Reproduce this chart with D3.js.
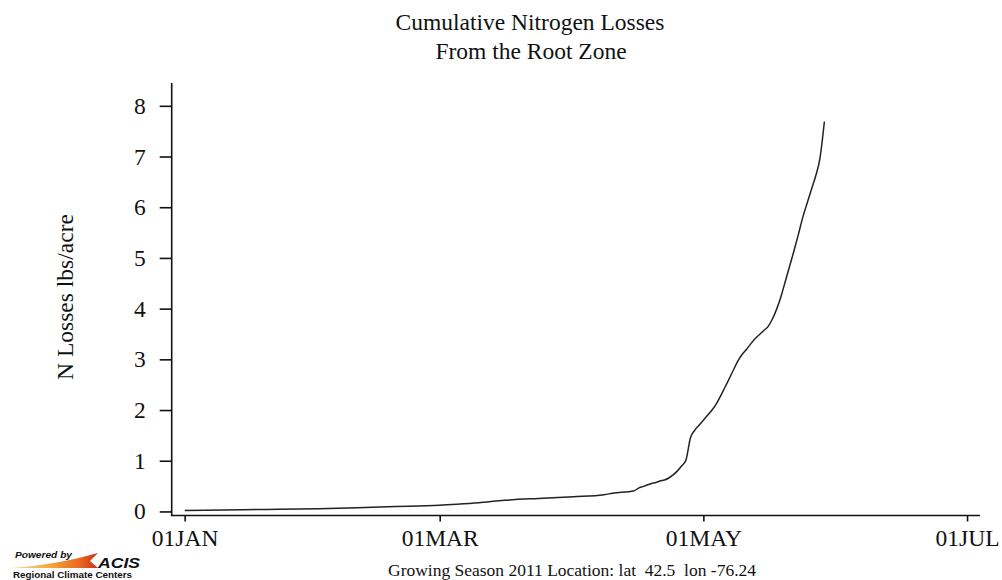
<!DOCTYPE html>
<html>
<head>
<meta charset="utf-8">
<script src="https://cdn.jsdelivr.net/npm/d3@7"></script>
<style>
  html, body { margin: 0; padding: 0; background: #fff; }
  svg { display: block; }
  text { font-family: "Liberation Serif", "Times New Roman", serif; fill: #111; }
</style>
</head>
<body>
<svg id="chart" width="1002" height="580"></svg>
<script>
// Cumulative N losses (lbs/acre), growing season 2011
const dates = [
  "2011-01-01","2011-01-10","2011-01-20","2011-02-01","2011-02-10","2011-02-17",
  "2011-03-01","2011-03-05","2011-03-10","2011-03-16","2011-03-25","2011-04-01",
  "2011-04-08","2011-04-10","2011-04-15","2011-04-16","2011-04-17","2011-04-18",
  "2011-04-19","2011-04-20","2011-04-21","2011-04-22","2011-04-23","2011-04-24",
  "2011-04-25","2011-04-26","2011-04-27","2011-04-28","2011-04-29","2011-04-30",
  "2011-05-01","2011-05-02","2011-05-03","2011-05-04","2011-05-05","2011-05-06",
  "2011-05-07","2011-05-08","2011-05-09","2011-05-10","2011-05-11","2011-05-12",
  "2011-05-13","2011-05-14","2011-05-15","2011-05-16","2011-05-17","2011-05-18",
  "2011-05-19","2011-05-20","2011-05-21","2011-05-22","2011-05-23","2011-05-24",
  "2011-05-25","2011-05-26","2011-05-27","2011-05-28","2011-05-29"
];
const nLoss = [
  0.02, 0.03, 0.04, 0.055, 0.075, 0.095,
  0.12, 0.14, 0.17, 0.22, 0.26, 0.29,
  0.33, 0.36, 0.41, 0.46, 0.49, 0.52,
  0.55, 0.57, 0.60, 0.62, 0.66, 0.72,
  0.80, 0.90, 1.02, 1.45, 1.60, 1.70,
  1.80, 1.90, 2.00, 2.12, 2.28, 2.45,
  2.62, 2.80, 2.97, 3.10, 3.20, 3.31,
  3.41, 3.49, 3.57, 3.65, 3.80, 4.00,
  4.25, 4.55, 4.85, 5.15, 5.47, 5.80,
  6.08, 6.35, 6.62, 6.98, 7.69
];
const xTickDates = ["2011-01-01","2011-03-01","2011-05-01","2011-07-01"];
const xTickLabels = ["01JAN","01MAR","01MAY","01JUL"];
const yTicks = [0,1,2,3,4,5,6,7,8];

const parse = d3.utcParse("%Y-%m-%d");
const series = dates.map((d, i) => ({ date: parse(d), value: nLoss[i] }));

const svg = d3.select("#chart");
const plotL = 171.7, plotR = 980, plotT = 83, plotB = 515.5;

const x = d3.scaleUtc()
  .domain([parse("2010-12-29"), parse("2011-07-04")])
  .range([plotL, plotR]);
const y = d3.scaleLinear()
  .domain([-0.08, 8.45])
  .range([plotB, plotT]);

// Title
const title = svg.append("g").attr("text-anchor", "middle").style("font-size", "23.5px");
title.append("text").attr("x", 530).attr("y", 30).text("Cumulative Nitrogen Losses");
title.append("text").attr("x", 531).attr("y", 59).text("From the Root Zone");

// Y axis
const yAxis = d3.axisLeft(y).tickValues(yTicks).tickSize(12).tickSizeOuter(0).tickPadding(14);
const gy = svg.append("g").attr("transform", `translate(${plotL},0)`).call(yAxis);
gy.select(".domain").attr("d", `M0,${plotT}V${plotB}`);
gy.selectAll("path, line").attr("stroke", "#111").attr("stroke-width", 1.6);
gy.selectAll("text").style("font-size", "23.5px").attr("fill", "#111")
  .style("font-family", '"Liberation Serif", serif');

// X axis
const xAxis = d3.axisBottom(x)
  .tickValues(xTickDates.map(parse))
  .tickFormat((d, i) => xTickLabels[i])
  .tickSize(6).tickSizeOuter(0).tickPadding(8);
const gx = svg.append("g").attr("transform", `translate(0,${plotB})`).call(xAxis);
gx.select(".domain").attr("d", `M${plotL - 0.8},0H${plotR}`);
gx.selectAll("path, line").attr("stroke", "#111").attr("stroke-width", 1.6);
gx.selectAll("text").style("font-size", "23.5px").attr("fill", "#111")
  .style("font-family", '"Liberation Serif", serif');

// Y label
svg.append("text")
  .attr("transform", "translate(73,297) rotate(-90)")
  .attr("text-anchor", "middle")
  .style("font-size", "23.5px")
  .text("N Losses lbs/acre");

// Cumulative loss curve
const line = d3.line()
  .x(d => x(d.date))
  .y(d => y(d.value))
  .curve(d3.curveMonotoneX);
svg.append("path")
  .datum(series)
  .attr("fill", "none")
  .attr("stroke", "#222")
  .attr("stroke-width", 1.5)
  .attr("d", line);

// Footer
svg.append("text")
  .attr("x", 388).attr("y", 576)
  .attr("textLength", 368)
  .attr("lengthAdjust", "spacingAndGlyphs")
  .style("font-size", "16px")
  .style("white-space", "pre")
  .text("Growing Season 2011 Location: lat  42.5  lon -76.24");

// ACIS logo
const defs = svg.append("defs");
const grad = defs.append("linearGradient").attr("id", "swoosh")
  .attr("x1", "0").attr("x2", "1").attr("y1", "0").attr("y2", "0");
grad.append("stop").attr("offset", "0").attr("stop-color", "#f3dfa0");
grad.append("stop").attr("offset", "0.45").attr("stop-color", "#f2a73a");
grad.append("stop").attr("offset", "0.8").attr("stop-color", "#e8661c");
grad.append("stop").attr("offset", "1").attr("stop-color", "#c9301c");
const logo = svg.append("g");
logo.append("path")
  .attr("d", "M11,568 C40,566 70,561 98,553 L90,561 L98,568 Z")
  .attr("fill", "url(#swoosh)");
logo.append("text").attr("x", 15).attr("y", 558)
  .attr("textLength", 57).attr("lengthAdjust", "spacingAndGlyphs")
  .style("font-family", "'Liberation Sans', Arial, sans-serif")
  .style("font-size", "8.5px").style("font-style", "italic").style("font-weight", "bold")
  .attr("fill", "#8a1a1a").text("Powered by");
logo.append("text").attr("x", 98).attr("y", 568)
  .attr("textLength", 42).attr("lengthAdjust", "spacingAndGlyphs")
  .style("font-family", "'Liberation Sans', Arial, sans-serif")
  .style("font-size", "15.5px").style("font-style", "italic").style("font-weight", "bold")
  .attr("fill", "#8a1a2a").text("ACIS");
logo.append("text").attr("x", 13).attr("y", 578)
  .attr("textLength", 119).attr("lengthAdjust", "spacingAndGlyphs")
  .style("font-family", "'Liberation Sans', Arial, sans-serif")
  .style("font-size", "8.5px").style("font-weight", "bold")
  .attr("fill", "#8c8c8c").text("Regional Climate Centers");
</script>
</body>
</html>
